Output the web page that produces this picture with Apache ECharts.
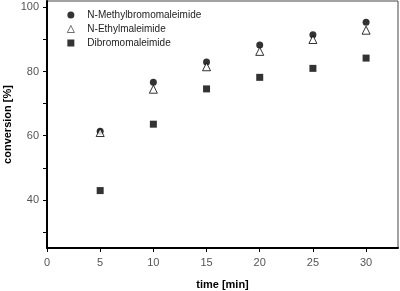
<!DOCTYPE html>
<html>
<head>
<meta charset="utf-8">
<script src="https://cdn.jsdelivr.net/npm/echarts@6/dist/echarts.min.js"></script>
<style>
  html, body { margin: 0; padding: 0; background: #fff; }
  #chart { width: 400px; height: 291px; }
</style>
</head>
<body>
<div id="chart"></div>
<script>
// time [min]
var times = [5, 10, 15, 20, 25, 30];
var methyl = [61.4, 76.7, 83.0, 88.3, 91.5, 95.4];
var ethyl = [61.0, 74.5, 81.5, 86.3, 90.0, 92.9];
var dibromo = [42.9, 63.6, 74.6, 78.2, 81.0, 84.2];
var names = ['N-Methylbromomaleimide', 'N-Ethylmaleimide', 'Dibromomaleimide'];
var xTicks = [0, 5, 10, 15, 20, 25, 30];
var yTicks = [30, 40, 50, 60, 70, 80, 90, 100];
var yLabels = [40, 60, 80, 100];

function pairs(xs, ys) {
    var out = [];
    for (var i = 0; i < xs.length; i++) out.push([xs[i], ys[i]]);
    return out;
}

var chart = echarts.init(document.getElementById('chart'));

var option = {
    animation: false,
    textStyle: { fontFamily: 'Liberation Sans' },
    grid: {
        left: 47, right: 2, top: 1, bottom: 43,
        outerBoundsMode: 'none',
        containLabel: false,
        show: true,
        borderColor: '#444',
        borderWidth: 1
    },
    legend: {
        orient: 'vertical',
        left: 62,
        top: 5,
        itemGap: 4,
        itemWidth: 7,
        itemHeight: 7,
        textStyle: {
            fontSize: 10, color: '#222', fontFamily: 'Liberation Sans',
            padding: [0, 0, 0, 8]
        },
        data: [
            { name: names[0], icon: 'circle' },
            { name: names[1], icon: 'triangle', itemStyle: { borderWidth: 0.7 } },
            { name: names[2], icon: 'rect' }
        ]
    },
    xAxis: {
        type: 'value',
        min: 0,
        max: 33,
        name: 'time [min]',
        nameLocation: 'middle',
        nameGap: 31,
        nameMoveOverlap: false,
        nameTextStyle: { fontWeight: 'bold', fontSize: 11, color: '#000' },
        axisLine: { lineStyle: { color: '#000', width: 2 } },
        axisTick: { customValues: xTicks, length: 4, lineStyle: { color: '#000' } },
        axisLabel: { customValues: xTicks, color: '#555', fontSize: 11, margin: 9 },
        splitLine: { show: false }
    },
    yAxis: {
        type: 'value',
        min: 25,
        max: 102,
        name: 'conversion [%]',
        nameLocation: 'middle',
        nameGap: 34,
        nameMoveOverlap: false,
        nameTextStyle: { fontWeight: 'bold', fontSize: 11, color: '#000' },
        axisLine: { show: true, lineStyle: { color: '#000', width: 2 } },
        axisTick: { show: true, customValues: yTicks, length: 4, lineStyle: { color: '#000' } },
        axisLabel: { customValues: yLabels, color: '#555', fontSize: 11, margin: 8 },
        splitLine: { show: false }
    },
    series: [{
        name: names[0],
        type: 'scatter',
        symbol: 'circle',
        symbolSize: 7,
        itemStyle: { color: '#000' },
        data: pairs(times, methyl)
    }, {
        name: names[1],
        type: 'scatter',
        symbol: 'triangle',
        symbolSize: 8,
        itemStyle: { color: '#fff', borderColor: '#000', borderWidth: 1 },
        data: pairs(times, ethyl)
    }, {
        name: names[2],
        type: 'scatter',
        symbol: 'rect',
        symbolSize: 7,
        itemStyle: { color: '#000' },
        data: pairs(times, dibromo)
    }]
};

chart.setOption(option);
</script>
</body>
</html>
